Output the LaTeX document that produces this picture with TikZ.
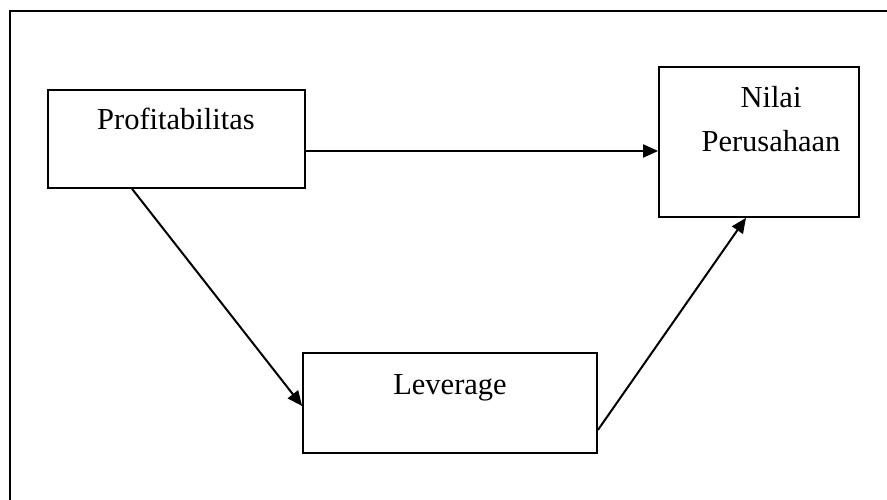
\documentclass[tikz,border=0pt]{standalone}
\usepackage{fontspec}
\setmainfont{Liberation Serif}
\usetikzlibrary{arrows.meta}
\begin{document}
\begin{tikzpicture}[x=1pt,y=-1pt,
  boxnode/.style={draw=black, line width=1.8pt, inner sep=0pt, fill=white},
  labeltext/.style={anchor=base, inner sep=0pt, font=\fontsize{30.5}{44}\selectfont},
  conn/.style={draw=black, line width=2pt, -{Triangle[length=15pt,width=13pt]}}]
\useasboundingbox (0,0) rectangle (887,500);
\clip (0,0) rectangle (887,500);
\fill[white] (0,0) rectangle (887,500);
\draw[line width=2pt] (10,11) rectangle (920,530);
\node[boxnode, minimum width=257pt, minimum height=98pt] (prof) at (176.5,139) {};
\node[boxnode, minimum width=200pt, minimum height=150pt] (nilai) at (759,142) {};
\node[boxnode, minimum width=294pt, minimum height=100pt] (lev) at (450,403) {};
\node[labeltext] (tprof) at (176,130) {Profitabilitas};
\node[labeltext] (tnilai1) at (771,108) {Nilai};
\node[labeltext] (tnilai2) at (771,152) {Perusahaan};
\node[labeltext] (tlev) at (450,394) {Leverage};
\draw[conn] ([yshift=-12pt]prof.east) -- ([yshift=-9pt]nilai.west);
\draw[conn] ([xshift=85pt]prof.south west) -- ([yshift=-3pt]lev.west);
\draw[conn] ([yshift=-27pt]lev.east) -- ([xshift=-13pt]nilai.south);
\end{tikzpicture}
\end{document}
